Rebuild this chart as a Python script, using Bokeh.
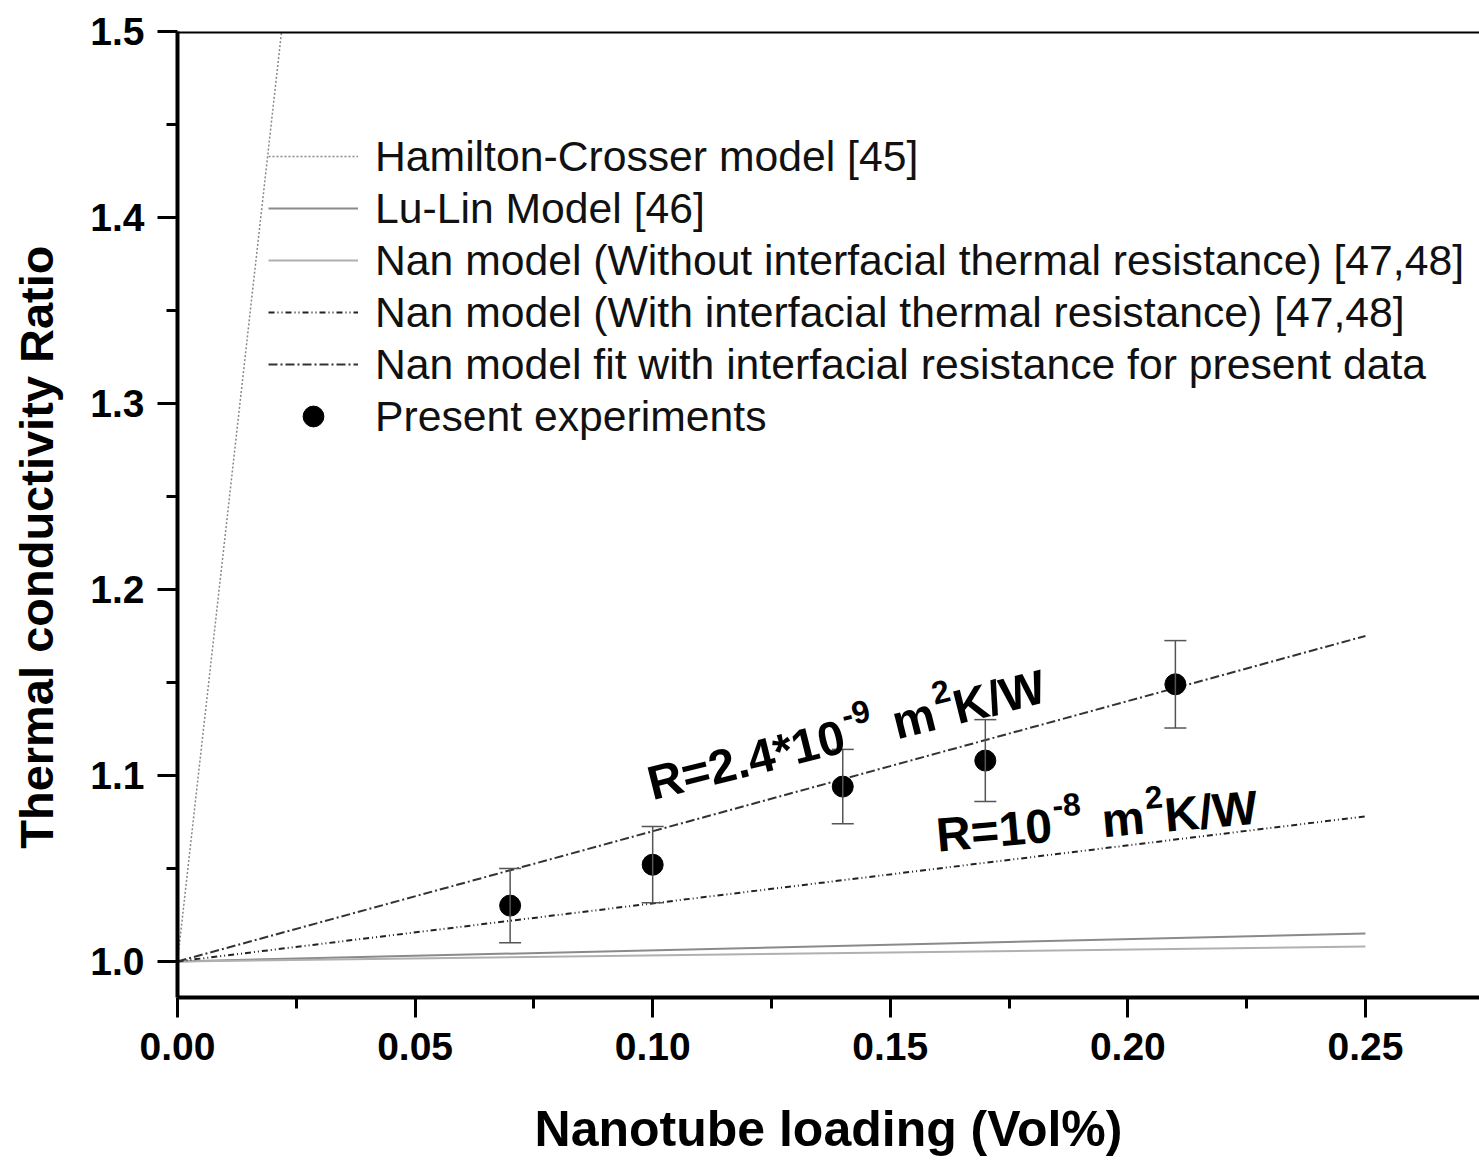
import math
from bokeh.plotting import figure
from bokeh.models import (Range1d, FixedTicker, PrintfTickFormatter, Span, Legend,
                          LegendItem, Label, ColumnDataSource, Whisker, TeeHead)
from bokeh.embed import file_html
from bokeh.resources import INLINE

# ---- data ----
model_phi = [0.0, 0.25]
lu_lin = [1.0, 1.015]
nan_without = [1.0, 1.008]
nan_with = [1.0, 1.078]
nan_fit = [1.0, 1.175]
hc_phi = [0.0, 0.0219]
hamilton_crosser = [1.0, 1.5]

exp_phi = [0.07, 0.10, 0.14, 0.17, 0.21]
exp_ratio = [1.030, 1.052, 1.094, 1.108, 1.149]
exp_err = [0.020, 0.0205, 0.020, 0.022, 0.0235]

x_ticks = [0.0, 0.05, 0.10, 0.15, 0.20, 0.25]
x_minor = [0.025, 0.075, 0.125, 0.175, 0.225]
y_ticks = [1.0, 1.1, 1.2, 1.3, 1.4, 1.5]
y_minor = [1.05, 1.15, 1.25, 1.35, 1.45]

labels = ["Hamilton-Crosser model [45]",
          "Lu-Lin Model [46]",
          "Nan model (Without interfacial thermal resistance) [47,48]",
          "Nan model (With interfacial thermal resistance) [47,48]",
          "Nan model fit with interfacial resistance for present data",
          "Present experiments"]

# annotation pieces: (text, is_superscript, distance along baseline in px)
annot_fit = [("R=2.4*10", False, 0), ("-9", True, 204), ("m", False, 252),
             ("2", True, 297), ("K/W", False, 315)]
annot_nan = [("R=10", False, 0), ("-8", True, 118), ("m", False, 166),
             ("2", True, 211), ("K/W", False, 229)]

FONT = "Liberation Sans"

p = figure(width=1479, height=1161, output_backend="svg", toolbar_location=None,
           x_range=Range1d(0, 0.274), y_range=Range1d(0.9806, 1.5),
           min_border_left=177, min_border_right=0, min_border_top=31,
           min_border_bottom=164)
p.outline_line_color = None
p.xgrid.grid_line_color = None
p.ygrid.grid_line_color = None

for ax, ticks, minor, fmt in ((p.xaxis[0], x_ticks, x_minor, "%.2f"),
                              (p.yaxis[0], y_ticks, y_minor, "%.1f")):
    ax.ticker = FixedTicker(ticks=ticks, minor_ticks=minor)
    ax.formatter = PrintfTickFormatter(format=fmt)
    ax.axis_line_width = 4
    ax.axis_line_color = "black"
    ax.major_tick_line_width = 3
    ax.minor_tick_line_width = 3
    ax.major_tick_in = 0
    ax.major_tick_out = 20
    ax.minor_tick_in = 0
    ax.minor_tick_out = 11
    ax.major_label_text_font = FONT
    ax.major_label_text_font_style = "bold"
    ax.major_label_text_font_size = "39px"
    ax.major_label_text_color = "black"
    ax.axis_label_text_font = FONT
    ax.axis_label_text_font_style = "bold"
    ax.axis_label_text_color = "black"

p.xaxis.major_label_standoff = 15
p.yaxis.major_label_standoff = 13
p.xaxis.axis_label = "Nanotube loading (Vol%)"
p.xaxis.axis_label_text_font_size = "50px"
p.xaxis.axis_label_standoff = 38
p.yaxis.axis_label = "Thermal conductivity Ratio" + "\u00a0" * 5
p.yaxis.axis_label_text_font_size = "47px"
p.yaxis.axis_label_standoff = 24

p.add_layout(Span(location=1.5, dimension="width", line_color="black", line_width=4))

r_hc = p.line(hc_phi, hamilton_crosser, line_color="#888888", line_width=1.5, line_dash="2 2")
r_ll = p.line(model_phi, lu_lin, line_color="#8a8a8a", line_width=2)
r_nw = p.line(model_phi, nan_without, line_color="#b0b0b0", line_width=2)
r_nr = p.line(model_phi, nan_with, line_color="#222222", line_width=2, line_dash="6 3 1 3 1 3")
r_nf = p.line(model_phi, nan_fit, line_color="#333333", line_width=2, line_dash="9 3 2 3")

src = ColumnDataSource(dict(x=exp_phi, y=exp_ratio,
                            upper=[v + e for v, e in zip(exp_ratio, exp_err)],
                            lower=[v - e for v, e in zip(exp_ratio, exp_err)]))
p.add_layout(Whisker(source=src, base="x", upper="upper", lower="lower",
                     line_color="#555555", line_width=1.5, level="glyph",
                     upper_head=TeeHead(size=22, line_color="#555555", line_width=1.5),
                     lower_head=TeeHead(size=22, line_color="#555555", line_width=1.5)))
r_ex = p.scatter("x", "y", source=src, size=21, color="black")

legend = Legend(items=[LegendItem(label=l, renderers=[r]) for l, r in
                       zip(labels, [r_hc, r_ll, r_nw, r_nr, r_nf, r_ex])],
                location=(91, 555), padding=0, margin=0, spacing=0,
                glyph_width=90, glyph_height=52, label_height=52, label_standoff=17,
                label_text_font=FONT, label_text_font_size="42.7px",
                label_text_color="#111111",
                border_line_color=None, background_fill_alpha=0)
p.add_layout(legend)


def add_annotation(pieces, x0, y0, angle_deg, size=48, sup_size=32, raise_px=19):
    th = math.radians(angle_deg)
    c, s = math.cos(th), math.sin(th)
    for text, sup, d in pieces:
        h = raise_px if sup else 0
        p.add_layout(Label(x=x0, y=y0, text=text, angle=th,
                           x_offset=d * c - h * s, y_offset=d * s + h * c,
                           text_font=FONT, text_font_style="bold",
                           text_font_size=f"{sup_size if sup else size}px",
                           text_color="black", text_baseline="alphabetic"))


add_annotation(annot_fit, 0.0991, 1.0952, 14.0)
add_annotation(annot_nan, 0.1597, 1.0678, 5.0)

open("out.html", "w").write(file_html(p, INLINE))
